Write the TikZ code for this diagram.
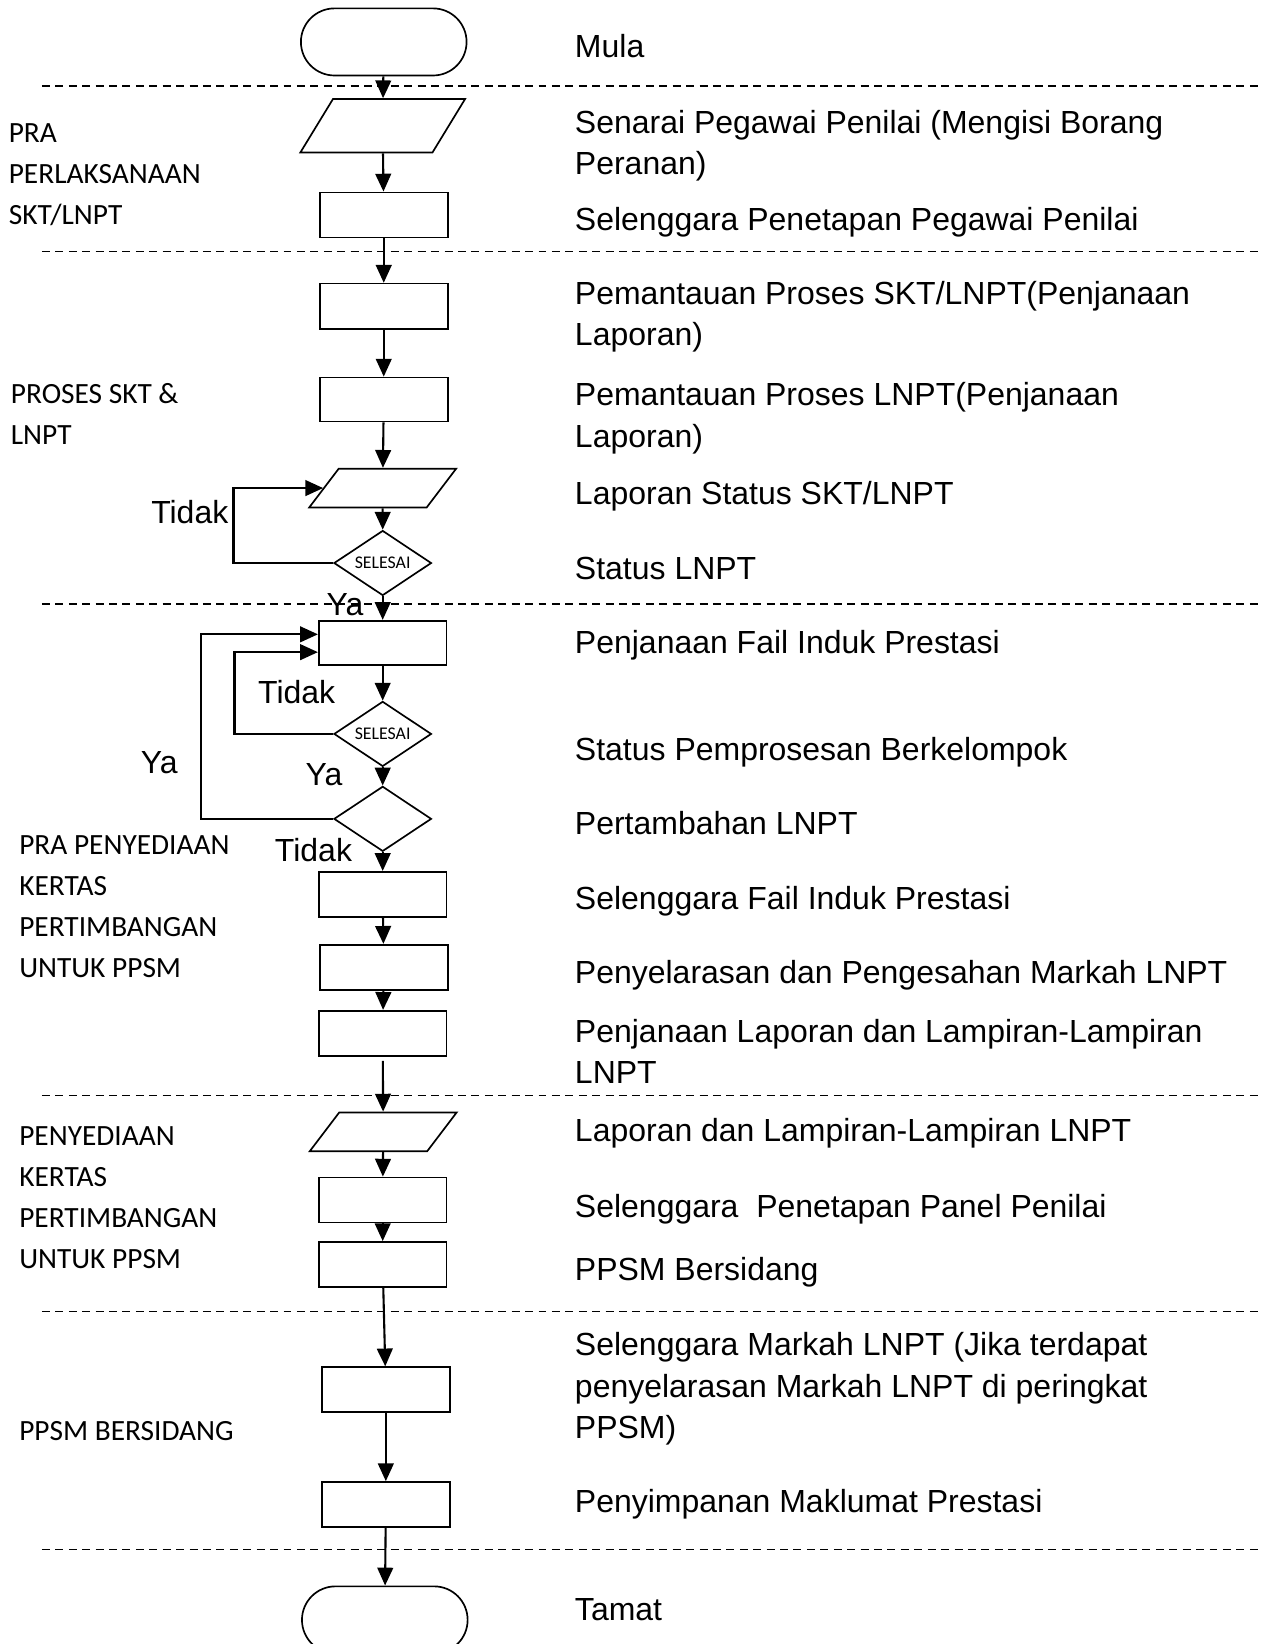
\documentclass[tikz,border=0pt]{standalone}
\usepackage{fontspec}
\usepackage{tikz}
\usetikzlibrary{arrows.meta,positioning,calc,shapes.geometric}
\newfontfamily\descfont{Liberation Sans}
\newfontfamily\phasefont{Carlito}

\begin{document}
\begin{tikzpicture}[x=0.5pt,y=-0.5pt,
    box/.style={draw,line width=0.8pt,minimum width=61pt,minimum height=21.5pt,inner sep=0pt},
    term/.style={draw,line width=0.8pt,rounded corners=16pt,minimum width=79pt,minimum height=32pt,inner sep=0pt},
    iobox/.style={draw,line width=0.8pt,xslant=#1,transform shape,minimum width=56pt,minimum height=18.5pt,inner sep=0pt},
    iobox/.default=0.76,
    check/.style={draw,line width=0.8pt,diamond,aspect=2,minimum width=46.5pt,minimum height=31pt,
        inner sep=0pt,font=\phasefont\fontsize{8.5}{10}\selectfont},
    arr/.style={-{Triangle[width=7.5pt,length=8.5pt]},line width=1pt},
    sep/.style={dash pattern=on 3.8pt off 2.6pt,line width=0.6pt},
    desc/.style={anchor=base west,align=left,inner sep=0pt,font=\descfont\fontsize{15.25}{19.75}\selectfont},
    phase/.style={anchor=base west,align=left,inner sep=0pt,font=\phasefont\fontsize{14}{19.5}\selectfont},
    ans/.style={inner sep=0pt,font=\descfont\fontsize{15.25}{18}\selectfont}]
    \path[use as bounding box] (0,0) rectangle (1202,1568);
    \clip (0,0) rectangle (1202,1568);

    % phase separators
    \foreach \y in {82,240,576,1045,1251,1478}
        \draw[sep] (40,\y) -- (1202,\y);

    % flow column
    \node[term] (start) at (366,40) {};
    \begin{scope}[shift={(365,120)}]
        \node[iobox=0.61,minimum width=63pt,minimum height=25.5pt] (list) {};
    \end{scope}
    \node[box] (assign) at (366,205) {};
    \node[box] (monA) at (366,292) {};
    \node[box,minimum height=21pt] (monB) at (366,381) {};
    \begin{scope}[shift={(365,465.5)}]
        \node[iobox] (rep) {};
    \end{scope}
    \node[check] (chk1) at (365,537) {SELESAI};
    \node[box,minimum height=21pt] (gen) at (365,613) {};
    \node[check] (chk2) at (365,700) {SELESAI};
    \node[check] (add) at (365,781) {};
    \node[box] (maint) at (365,853) {};
    \node[box] (sync) at (366,922.5) {};
    \node[box] (genrep) at (365,985.5) {};
    \begin{scope}[shift={(365.5,1079.5)}]
        \node[iobox] (reprt) {};
    \end{scope}
    \node[box] (panel) at (365,1144.5) {};
    \node[box] (meet) at (365,1206) {};
    \node[box] (mark) at (368,1325.5) {};
    \node[box] (store) at (368,1435) {};
    \node[term] (stop) at (367,1545) {};

    \draw[arr] (start) -- (list);
    \draw[arr] (list) -- (assign);
    \draw[arr] (assign) -- (monA);
    \draw[arr] (monA) -- (monB);
    \draw[arr] (monB) -- (rep);
    \draw[arr] (rep) -- (chk1);
    \draw[arr] (chk1) -- (gen);
    \draw[arr] (gen) -- (chk2);
    \draw[arr] (chk2) -- (add);
    \draw[arr] (add) -- (maint);
    \draw[arr] (maint) -- (sync);
    \draw[arr] (sync) -- (genrep);
    \draw[arr,shorten <=2pt] (genrep) -- (reprt);
    \draw[arr] (reprt) -- (panel);
    \draw[arr] (panel) -- (meet);
    \draw[arr] (meet) -- (mark);
    \draw[arr] (mark) -- (store);
    \draw[arr] (store) -- (stop);

    % loops back
    \draw[arr] (chk1.west) -- ++(-95,0) |- (rep.west);
    \draw[arr] (chk2.west) -- ++(-94,0) |- ($(gen.west)+(0,9)$);
    \draw[arr] (add.west) -- ++(-126,0) |- ($(gen.west)+(0,-8)$);

    \node[ans] (no1) at (181,488) {Tidak};
    \node[ans] (yes1) at (329,577) {Ya};
    \node[ans] (no2) at (283,660) {Tidak};
    \node[ans] (yes2) at (309,739) {Ya};
    \node[ans] (yes3) at (152,727) {Ya};
    \node[ans] (no3) at (299,811) {Tidak};

    % descriptions (base = last line)
    \node[desc] (mula) at (548,55) {Mula};
    \node[desc] (senarai) at (548,166.5) {Senarai Pegawai Penilai (Mengisi Borang\\Peranan)};
    \node[desc] (tetapPP) at (548,220) {Selenggara Penetapan Pegawai Penilai};
    \node[desc] (pantauA) at (548,329.5) {Pemantauan Proses SKT/LNPT(Penjanaan\\Laporan)};
    \node[desc] (pantauB) at (548,426.5) {Pemantauan Proses LNPT(Penjanaan\\Laporan)};
    \node[desc] (lapStatus) at (548,481) {Laporan Status SKT/LNPT};
    \node[desc] (statusLNPT) at (548,553) {Status LNPT};
    \node[desc] (janaFail) at (548,623) {Penjanaan Fail Induk Prestasi};
    \node[desc] (statusKel) at (548,725) {Status Pemprosesan Berkelompok};
    \node[desc] (tambah) at (548,796) {Pertambahan LNPT};
    \node[desc] (urusFail) at (548,867) {Selenggara Fail Induk Prestasi};
    \node[desc] (selaras) at (548,938) {Penyelarasan dan Pengesahan Markah LNPT};
    \node[desc] (janaLap) at (548,1033.5) {Penjanaan Laporan dan Lampiran-Lampiran\\LNPT};
    \node[desc] (lapLamp) at (548,1089) {Laporan dan Lampiran-Lampiran LNPT};
    \node[desc] (tetapPanel) at (548,1161) {Selenggara\ \ Penetapan Panel Penilai};
    \node[desc] (sidang) at (548,1221) {PPSM Bersidang};
    \node[desc] (urusMarkah) at (548,1372) {Selenggara Markah LNPT (Jika terdapat\\penyelarasan Markah LNPT di peringkat\\PPSM)};
    \node[desc] (simpan) at (548,1443) {Penyimpanan Maklumat Prestasi};
    \node[desc] (tamat) at (548,1546) {Tamat};

    % phases
    \node[phase] (ph1) at (8,214) {PRA\\PERLAKSANAAN\\SKT/LNPT};
    \node[phase] (ph2) at (10,424) {PROSES SKT \&\\LNPT};
    \node[phase] (ph3) at (18,932) {PRA PENYEDIAAN\\KERTAS\\PERTIMBANGAN\\UNTUK PPSM};
    \node[phase] (ph4) at (18,1210) {PENYEDIAAN\\KERTAS\\PERTIMBANGAN\\UNTUK PPSM};
    \node[phase] (ph5) at (18,1374) {PPSM BERSIDANG};
\end{tikzpicture}
\end{document}
